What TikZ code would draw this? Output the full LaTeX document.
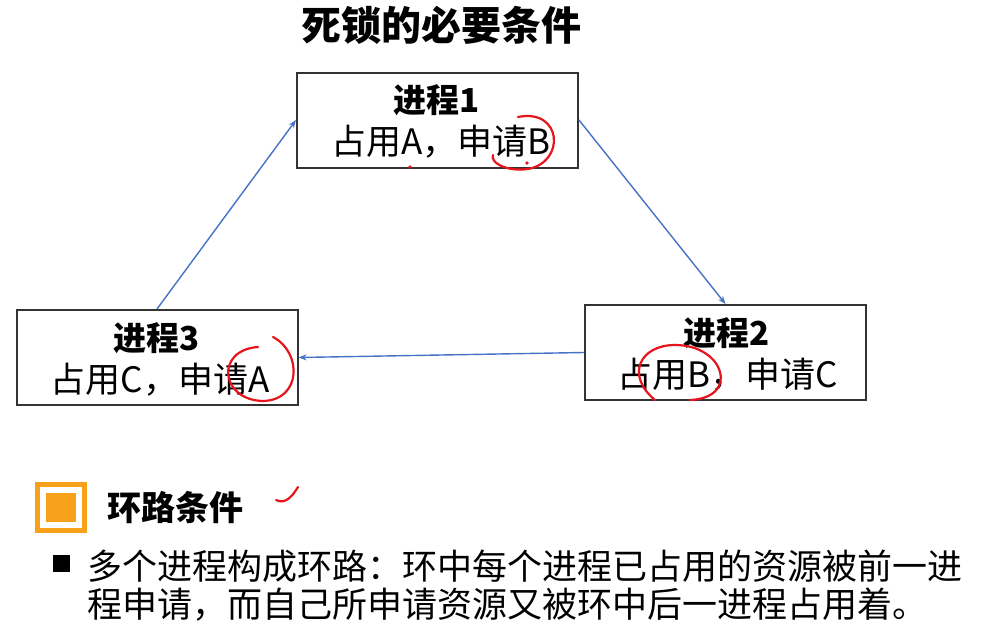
\documentclass[tikz,border=0pt]{standalone}
\usepackage{fontspec}
\setmainfont{Noto Sans CJK SC}
\usepackage{xcolor}
\usetikzlibrary{arrows.meta,calc,positioning}

\definecolor{linkblue}{HTML}{4472C4}
\definecolor{markorange}{HTML}{F7A11A}
\definecolor{penred}{HTML}{E8141B}

\begin{document}
\begin{tikzpicture}[
  x=1pt, y=-1pt,
  proc/.style={draw=black!80, line width=2pt, minimum width=281pt, minimum height=95pt, align=center, inner sep=0pt},
  link/.style={-{Stealth[length=8pt,width=6pt]}, draw=linkblue, line width=1.4pt},
  pen/.style={draw=penred, line width=2.2pt, line cap=round},
  head/.style={font=\fontsize{33}{36}\selectfont\bfseries},
  body/.style={font=\fontsize{35}{38}\selectfont},
]
\useasboundingbox (0,0) rectangle (997,630);

%% ---- title ----
\node[font=\fontsize{40}{44}\selectfont\bfseries] (title) at (441,25) {死锁的必要条件};

%% ---- processes ----
\node[proc] (p1) at (437.5,120) {};
\node[proc] (p2) at (725.5,352.5) {};
\node[proc] (p3) at (157,357.5) {};

\node[head] (p1a) at (437,100) {进程1};
\node[body] (p1b) at (441,142) {占用A，申请B};
\node[head] (p2a) at (727,333) {进程2};
\node[body] (p2b) at (728,375) {占用B，申请C};
\node[head] (p3a) at (157,338) {进程3};
\node[body] (p3b) at (160,380) {占用C，申请A};

%% ---- cycle ----
\draw[link] (p1.east) -- (p2.north);
\draw[link] (p2.west) -- (p3.east);
\draw[link] (p3.north) -- (p1.west);

%% ---- red pen marks ----
\draw[pen] (518,117) .. controls (562,108) and (566,162) .. (528,169) .. controls (505,172) and (490,162) .. (493,155);
\fill[penred] (410,167) circle (1.8);
\fill[penred] (527,163) circle (1.8);
\draw[pen] (655,400) .. controls (625,375) and (640,345) .. (675,345) .. controls (725,345) and (740,398) .. (690,400);
\draw[pen] (273,337) .. controls (302,352) and (302,400) .. (263,401) .. controls (220,400) and (215,350) .. (258,347);
\draw[pen] (276,500) .. controls (286,505) and (293,495) .. (298,487);

%% ---- condition ----
\fill[markorange] (35,482) rectangle (87,533);
\fill[white] (40,487) rectangle (82,528);
\fill[markorange] (46,493) rectangle (76,522);
\node[anchor=west, font=\fontsize{34}{38}\selectfont\bfseries] (cond) at (104,508) {环路条件};

\fill[black] (53,555) rectangle (70,572);
\node[anchor=west, font=\fontsize{35}{38}\selectfont] (line1) at (84,566) {多个进程构成环路：环中每个进程已占用的资源被前一进};
\node[anchor=west, font=\fontsize{35}{38}\selectfont] (line2) at (84,605) {程申请，而自己所申请资源又被环中后一进程占用着。};
\end{tikzpicture}
\end{document}
